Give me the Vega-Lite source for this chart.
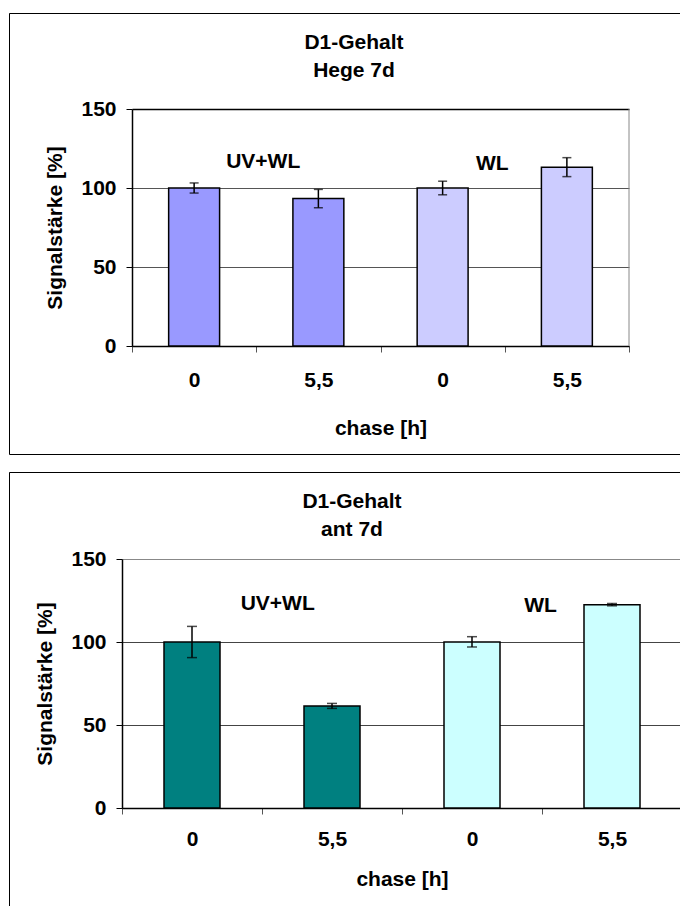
{
  "$schema": "https://vega.github.io/schema/vega-lite/v6.json",
  "padding": {"left": 8, "top": 12, "right": 0, "bottom": 0},
  "spacing": 18,
  "bounds": "flush",
  "resolve": {"scale": {"color": "independent"}},
  "config": {
    "font": "Liberation Sans",
    "axis": {"labelFont": "Liberation Sans", "titleFont": "Liberation Sans", "labelFontSize": 21, "labelFontWeight": "bold", "titleFontSize": 21, "titleFontWeight": "bold", "labelColor": "black", "titleColor": "black"},
    "title": {"font": "Liberation Sans", "fontSize": 21, "fontWeight": "bold", "color": "black"}
  },
  "vconcat": [
    {
      "width": 672,
      "height": 441,
      "view": {"stroke": "black", "strokeWidth": 1, "strokeDash": [672, 441, 1113]},
      "title": {"text": ["D1-Gehalt", "Hege 7d"], "lineHeight": 28, "anchor": "middle", "frame": "group", "dx": 9, "offset": -68},
      "data": {"values": [
        {"cat": "UV 0", "grp": "UV+WL", "val": 100, "lo": 96.8, "hi": 103.2},
        {"cat": "UV 5,5", "grp": "UV+WL", "val": 93.3, "lo": 87.5, "hi": 99.1},
        {"cat": "WL 0", "grp": "WL", "val": 100, "lo": 95.7, "hi": 104.3},
        {"cat": "WL 5,5", "grp": "WL", "val": 113.2, "lo": 107.2, "hi": 119.2}
      ]},
      "layer": [
        {
          "mark": {"type": "bar", "stroke": "black", "strokeWidth": 1.5, "width": {"band": 0.41}},
          "encoding": {
            "x": {"field": "cat", "type": "nominal", "sort": null, "title": "chase [h]",
              "scale": {"domain": ["UV 0", "UV 5,5", "WL 0", "WL 5,5"], "range": [123, 620], "paddingInner": 0, "paddingOuter": 0},
              "axis": {"orient": "bottom", "offset": -108, "tickBand": "extent", "labelExpr": "split(datum.label, ' ')[1]", "labelAngle": 0, "titleY": 71, "labelPadding": 17, "tickSize": 6, "tickColor": "#555", "domainColor": "black", "domainWidth": 1.5, "grid": false}},
            "y": {"field": "val", "type": "quantitative", "title": "Signalstärke [%]",
              "scale": {"domain": [0, 150], "range": [333, 96], "nice": false},
              "axis": {"orient": "left", "offset": -123, "values": [0, 50, 100, 150], "titleX": -67, "labelPadding": 10, "tickSize": 6, "tickColor": "black", "domainColor": "black", "domainWidth": 1.5, "grid": true,
                "gridColor": {"condition": {"test": "datum.value === 150", "value": "black"}, "value": "#555"},
                "gridWidth": {"condition": {"test": "datum.value === 150", "value": 1.5}, "value": 1}}},
            "color": {"field": "grp", "type": "nominal", "scale": {"domain": ["UV+WL", "WL"], "range": ["#9999FF", "#CCCCFF"]}, "legend": null}
          }
        },
        {
          "mark": {"type": "errorbar", "color": "black", "ticks": {"size": 9, "thickness": 1.5}, "rule": {"strokeWidth": 1.5}},
          "encoding": {
            "x": {"field": "cat", "type": "nominal", "title": "chase [h]"},
            "y": {"field": "lo", "type": "quantitative", "title": "Signalstärke [%]"},
            "y2": {"field": "hi"}
          }
        },
        {
          "data": {"values": [{"cat": "WL 5,5"}]},
          "mark": {"type": "rule", "color": "#888", "strokeWidth": 1},
          "encoding": {
            "x": {"field": "cat", "type": "nominal", "bandPosition": 1, "title": "chase [h]"},
            "y": {"datum": 0, "title": "Signalstärke [%]"},
            "y2": {"datum": 150}
          }
        },
        {
          "data": {"values": [{"cat": "UV 5,5", "pos": 116.5, "label": "UV+WL"}]},
          "mark": {"type": "text", "fontSize": 21, "fontWeight": "bold", "color": "black", "baseline": "middle", "align": "center"},
          "encoding": {
            "x": {"field": "cat", "type": "nominal", "bandPosition": 0.056, "title": "chase [h]"},
            "y": {"field": "pos", "type": "quantitative", "title": "Signalstärke [%]"},
            "text": {"field": "label"}
          }
        },
        {
          "data": {"values": [{"cat": "WL 0", "pos": 115.2, "label": "WL"}]},
          "mark": {"type": "text", "fontSize": 21, "fontWeight": "bold", "color": "black", "baseline": "middle", "align": "center"},
          "encoding": {
            "x": {"field": "cat", "type": "nominal", "bandPosition": 0.9, "title": "chase [h]"},
            "y": {"field": "pos", "type": "quantitative", "title": "Signalstärke [%]"},
            "text": {"field": "label"}
          }
        }
      ]
    },
    {
      "width": 672,
      "height": 435,
      "view": {"stroke": "black", "strokeWidth": 1, "strokeDash": [672, 1107, 435]},
      "title": {"text": ["D1-Gehalt", "ant 7d"], "lineHeight": 28, "anchor": "middle", "frame": "group", "dx": 7, "offset": -68},
      "data": {"values": [
        {"cat": "UV 0", "grp": "UV+WL", "val": 100, "lo": 90.6, "hi": 109.4},
        {"cat": "UV 5,5", "grp": "UV+WL", "val": 61.5, "lo": 60.0, "hi": 63.0},
        {"cat": "WL 0", "grp": "WL", "val": 100, "lo": 97.0, "hi": 103.2},
        {"cat": "WL 5,5", "grp": "WL", "val": 122.5, "lo": 121.8, "hi": 123.2}
      ]},
      "layer": [
        {
          "mark": {"type": "bar", "stroke": "black", "strokeWidth": 1.5, "width": {"band": 0.4}},
          "encoding": {
            "x": {"field": "cat", "type": "nominal", "sort": null, "title": "chase [h]",
              "scale": {"domain": ["UV 0", "UV 5,5", "WL 0", "WL 5,5"], "range": [113, 673], "paddingInner": 0, "paddingOuter": 0},
              "axis": {"orient": "bottom", "offset": -99, "tickBand": "extent", "labelExpr": "split(datum.label, ' ')[1]", "labelAngle": 0, "titleY": 60, "labelPadding": 14, "tickSize": 6, "tickColor": "#555", "domainColor": "black", "domainWidth": 1.5, "grid": false}},
            "y": {"field": "val", "type": "quantitative", "title": "Signalstärke [%]",
              "scale": {"domain": [0, 150], "range": [336, 87], "nice": false},
              "axis": {"orient": "left", "offset": -113, "values": [0, 50, 100, 150], "titleX": -67, "labelPadding": 10, "tickSize": 6, "tickColor": "black", "domainColor": "black", "domainWidth": 1.5, "grid": true,
                "gridColor": {"condition": {"test": "datum.value === 150", "value": "#888"}, "value": "#444"}}},
            "color": {"field": "grp", "type": "nominal", "scale": {"domain": ["UV+WL", "WL"], "range": ["#008080", "#CCFFFF"]}, "legend": null}
          }
        },
        {
          "mark": {"type": "errorbar", "color": "black", "ticks": {"size": 10, "thickness": 1.5}, "rule": {"strokeWidth": 1.5}},
          "encoding": {
            "x": {"field": "cat", "type": "nominal", "title": "chase [h]"},
            "y": {"field": "lo", "type": "quantitative", "title": "Signalstärke [%]"},
            "y2": {"field": "hi"}
          }
        },
        {
          "data": {"values": [{"cat": "UV 5,5", "pos": 123, "label": "UV+WL"}]},
          "mark": {"type": "text", "fontSize": 21, "fontWeight": "bold", "color": "black", "baseline": "middle", "align": "center"},
          "encoding": {
            "x": {"field": "cat", "type": "nominal", "bandPosition": 0.112, "title": "chase [h]"},
            "y": {"field": "pos", "type": "quantitative", "title": "Signalstärke [%]"},
            "text": {"field": "label"}
          }
        },
        {
          "data": {"values": [{"cat": "WL 0", "pos": 121.8, "label": "WL"}]},
          "mark": {"type": "text", "fontSize": 21, "fontWeight": "bold", "color": "black", "baseline": "middle", "align": "center"},
          "encoding": {
            "x": {"field": "cat", "type": "nominal", "bandPosition": 0.99, "title": "chase [h]"},
            "y": {"field": "pos", "type": "quantitative", "title": "Signalstärke [%]"},
            "text": {"field": "label"}
          }
        }
      ]
    }
  ]
}
